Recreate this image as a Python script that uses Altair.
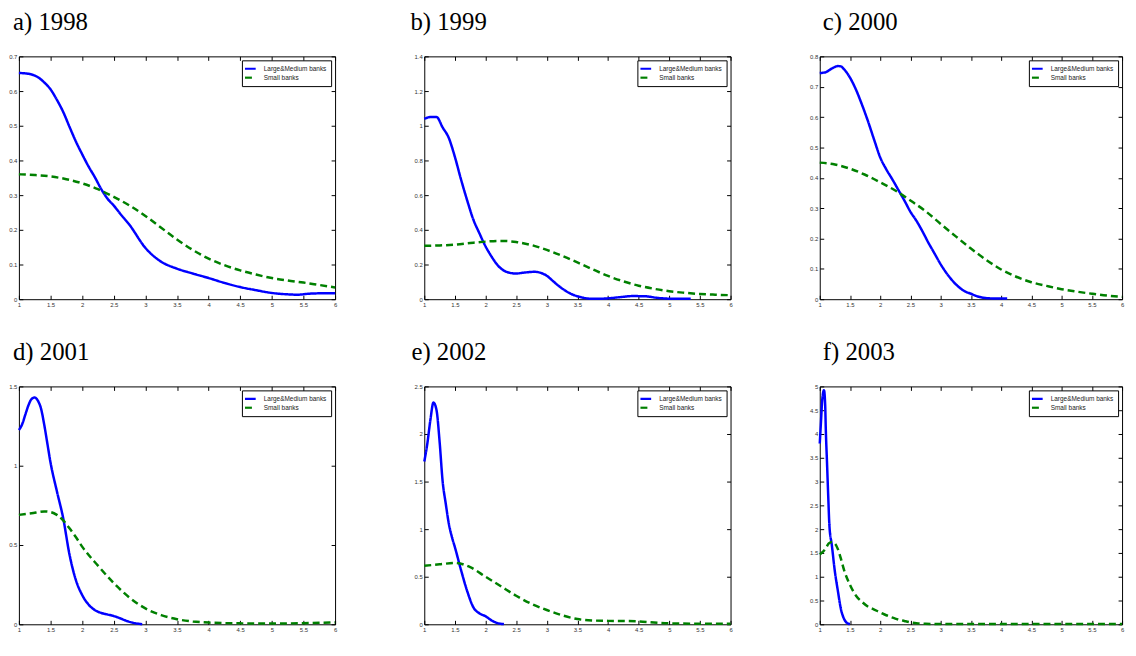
import altair as alt
import pandas as pd

SERIES = ["Large&Medium banks", "Small banks"]
COLORS = ["#0000ff", "#008000"]
X_TICKS = [1, 1.5, 2, 2.5, 3, 3.5, 4, 4.5, 5, 5.5, 6]
TITLES = ["a) 1998", "b) 1999", "c) 2000", "d) 2001", "e) 2002", "f) 2003"]

# ---- a) 1998
a_blue_x = [1.0, 1.1, 1.2, 1.3, 1.4, 1.5, 1.6, 1.7, 1.8, 1.9, 2.0, 2.1, 2.2, 2.3, 2.4, 2.5, 2.6, 2.75, 3.0, 3.25, 3.5, 3.75, 4.0, 4.25, 4.5, 4.75, 5.0, 5.25, 5.4, 5.6, 5.8, 6.0]
a_blue_y = [0.652, 0.651, 0.648, 0.64, 0.625, 0.605, 0.575, 0.54, 0.497, 0.455, 0.418, 0.383, 0.352, 0.318, 0.29, 0.27, 0.247, 0.214, 0.148, 0.108, 0.088, 0.074, 0.061, 0.047, 0.035, 0.026, 0.018, 0.014, 0.013, 0.016, 0.017, 0.017]
a_green_x = [1.0, 1.25, 1.5, 1.75, 2.0, 2.25, 2.5, 2.75, 3.0, 3.25, 3.5, 3.75, 4.0, 4.25, 4.5, 4.75, 5.0, 5.25, 5.5, 5.75, 6.0]
a_green_y = [0.36, 0.358, 0.354, 0.346, 0.334, 0.317, 0.295, 0.27, 0.24, 0.206, 0.172, 0.142, 0.117, 0.098, 0.083, 0.071, 0.061, 0.054, 0.048, 0.041, 0.034]

# ---- b) 1999
b_blue_x = [1.0, 1.1, 1.2, 1.3, 1.4, 1.5, 1.6, 1.7, 1.8, 1.9, 2.0, 2.1, 2.2, 2.3, 2.4, 2.5, 2.6, 2.7, 2.8, 2.9, 3.0, 3.1, 3.2, 3.3, 3.4, 3.5, 3.6, 3.7, 3.8, 3.9, 4.0, 4.2, 4.4, 4.6, 4.8, 5.0, 5.2, 5.35]
b_blue_y = [1.04, 1.05, 1.05, 0.99, 0.93, 0.82, 0.69, 0.57, 0.46, 0.38, 0.305, 0.245, 0.195, 0.165, 0.152, 0.148, 0.152, 0.156, 0.158, 0.152, 0.135, 0.105, 0.075, 0.05, 0.03, 0.017, 0.008, 0.003, 0.002, 0.003, 0.005, 0.012, 0.018, 0.017, 0.008, 0.003, 0.002, 0.002]
b_green_x = [1.0, 1.25, 1.5, 1.75, 2.0, 2.25, 2.5, 2.75, 3.0, 3.25, 3.5, 3.75, 4.0, 4.25, 4.5, 4.75, 5.0, 5.25, 5.5, 5.75, 6.0]
b_green_y = [0.308, 0.31, 0.315, 0.324, 0.332, 0.336, 0.33, 0.312, 0.284, 0.25, 0.212, 0.172, 0.134, 0.103, 0.078, 0.06, 0.046, 0.037, 0.03, 0.026, 0.023]

# ---- c) 2000
c_blue_x = [1.0, 1.1, 1.2, 1.3, 1.35, 1.4, 1.5, 1.6, 1.7, 1.8, 1.9, 2.0, 2.1, 2.2, 2.3, 2.4, 2.5, 2.6, 2.7, 2.8, 2.9, 3.0, 3.1, 3.2, 3.3, 3.4, 3.5, 3.6, 3.7, 3.8, 4.0, 4.1]
c_blue_y = [0.745, 0.748, 0.76, 0.768, 0.767, 0.758, 0.73, 0.69, 0.64, 0.585, 0.525, 0.467, 0.428, 0.395, 0.36, 0.325, 0.288, 0.258, 0.223, 0.185, 0.15, 0.115, 0.085, 0.06, 0.04, 0.026, 0.018, 0.01, 0.005, 0.003, 0.002, 0.002]
c_green_x = [1.0, 1.25, 1.5, 1.75, 2.0, 2.25, 2.5, 2.75, 3.0, 3.25, 3.5, 3.75, 4.0, 4.25, 4.5, 4.75, 5.0, 5.25, 5.5, 5.75, 6.0]
c_green_y = [0.45, 0.444, 0.43, 0.41, 0.385, 0.358, 0.325, 0.29, 0.248, 0.207, 0.167, 0.13, 0.098, 0.074, 0.056, 0.044, 0.033, 0.025, 0.018, 0.012, 0.008]

# ---- d) 2001
d_blue_x = [1.0, 1.05, 1.1, 1.15, 1.2, 1.25, 1.3, 1.35, 1.4, 1.45, 1.5, 1.6, 1.7, 1.8, 1.9, 2.0, 2.1, 2.2, 2.3, 2.4, 2.5, 2.6, 2.7, 2.8, 2.9, 2.95]
d_blue_y = [1.225, 1.26, 1.32, 1.38, 1.42, 1.43, 1.41, 1.36, 1.26, 1.14, 1.02, 0.84, 0.67, 0.44, 0.28, 0.185, 0.125, 0.09, 0.072, 0.062, 0.052, 0.038, 0.022, 0.01, 0.003, 0.001]
d_green_x = [1.0, 1.2, 1.4, 1.5, 1.6, 1.7, 1.8, 1.9, 2.0, 2.25, 2.5, 2.75, 3.0, 3.25, 3.5, 3.75, 4.0, 4.5, 5.0, 5.5, 6.0]
d_green_y = [0.69, 0.70, 0.712, 0.708, 0.69, 0.655, 0.605, 0.55, 0.49, 0.37, 0.26, 0.168, 0.1, 0.058, 0.032, 0.018, 0.011, 0.006, 0.005, 0.007, 0.012]

# ---- e) 2002
e_blue_x = [1.0, 1.05, 1.1, 1.15, 1.2, 1.25, 1.3, 1.35, 1.4, 1.45, 1.5, 1.6, 1.7, 1.8, 1.9, 2.0, 2.1, 2.2, 2.3]
e_blue_y = [1.71, 1.9, 2.15, 2.33, 2.25, 1.92, 1.5, 1.27, 1.06, 0.92, 0.81, 0.57, 0.35, 0.18, 0.115, 0.085, 0.04, 0.012, 0.002]
e_green_x = [1.0, 1.25, 1.5, 1.75, 2.0, 2.25, 2.5, 2.75, 3.0, 3.25, 3.5, 3.75, 4.0, 4.25, 4.5, 4.75, 5.0, 5.5, 6.0]
e_green_y = [0.615, 0.63, 0.645, 0.6, 0.5, 0.4, 0.3, 0.215, 0.15, 0.095, 0.055, 0.04, 0.036, 0.035, 0.03, 0.018, 0.01, 0.006, 0.005]

# ---- f) 2003
f_blue_x = [1.0, 1.02, 1.04, 1.07, 1.09, 1.1, 1.12, 1.14, 1.16, 1.2, 1.25, 1.3, 1.35, 1.4, 1.45, 1.5]
f_blue_y = [3.8, 4.25, 4.7, 4.92, 4.6, 4.1, 3.4, 2.7, 2.07, 1.66, 1.11, 0.7, 0.32, 0.12, 0.03, 0.005]
f_green_x = [1.0, 1.05, 1.1, 1.15, 1.2, 1.25, 1.3, 1.35, 1.4, 1.5, 1.6, 1.7, 1.8, 1.9, 2.0, 2.1, 2.25, 2.4, 2.5, 2.6, 2.75, 3.0, 4.0, 5.0, 6.0]
f_green_y = [1.47, 1.52, 1.6, 1.7, 1.73, 1.7, 1.58, 1.38, 1.15, 0.83, 0.6, 0.47, 0.37, 0.31, 0.25, 0.19, 0.12, 0.07, 0.04, 0.02, 0.01, 0.005, 0.005, 0.005, 0.005]

Y_MAX = [0.7, 1.4, 0.8, 1.5, 2.5, 5.0]
Y_TICKS = [
    [0, 0.1, 0.2, 0.3, 0.4, 0.5, 0.6, 0.7],
    [0, 0.2, 0.4, 0.6, 0.8, 1.0, 1.2, 1.4],
    [0, 0.1, 0.2, 0.3, 0.4, 0.5, 0.6, 0.7, 0.8],
    [0, 0.5, 1.0, 1.5],
    [0, 0.5, 1.0, 1.5, 2.0, 2.5],
    [0, 0.5, 1.0, 1.5, 2.0, 2.5, 3.0, 3.5, 4.0, 4.5, 5.0],
]
WIDTHS = [319, 309, 305, 319, 309, 305]
HEIGHTS = [245, 245, 245, 240, 240, 240]
TITLE_DX = [-6, -14, 3, -6, -13, 3]

PANELS = [
    (a_blue_x, a_blue_y, a_green_x, a_green_y),
    (b_blue_x, b_blue_y, b_green_x, b_green_y),
    (c_blue_x, c_blue_y, c_green_x, c_green_y),
    (d_blue_x, d_blue_y, d_green_x, d_green_y),
    (e_blue_x, e_blue_y, e_green_x, e_green_y),
    (f_blue_x, f_blue_y, f_green_x, f_green_y),
]

AX = dict(
    grid=False, domain=False, tickColor="black", tickSize=4, tickWidth=1,
    offset=-4, labelFont="Liberation Sans", labelFontSize=6, labelColor="#333333",
    labelPadding=2, labelFlush=False, labelOverlap=False, title=None, format="~g",
)


def panel(i):
    bx, by, gx, gy = PANELS[i]
    df = pd.DataFrame({
        "x": bx + gx,
        "y": by + gy,
        "s": [SERIES[0]] * len(bx) + [SERIES[1]] * len(gx),
    })
    xs = alt.Scale(domain=[1, 6], nice=False, zero=False)
    ys = alt.Scale(domain=[0, Y_MAX[i]], nice=False)
    leg = alt.Legend(
        title=None, orient="top-right", offset=4, strokeColor="black", fillColor="white",
        padding=4, rowPadding=0, labelFont="Liberation Sans", labelFontSize=6.5,
        labelColor="#222222", symbolType="M-1.8,0H1.8", symbolSize=36,
        symbolStrokeWidth=2.2, labelOffset=9,
    )
    lines = alt.Chart(df).mark_line(strokeWidth=2.5, interpolate="monotone").encode(
        x=alt.X("x:Q", scale=xs, axis=alt.Axis(values=X_TICKS, orient="bottom", **AX)),
        y=alt.Y("y:Q", scale=ys, axis=alt.Axis(values=Y_TICKS[i], orient="left", **AX)),
        color=alt.Color("s:N", scale=alt.Scale(domain=SERIES, range=COLORS), legend=leg),
        strokeDash=alt.StrokeDash("s:N", scale=alt.Scale(domain=SERIES, range=[[1, 0], [7, 4]]), legend=leg),
    )
    frame = alt.Chart(df).mark_point(opacity=0).encode(
        x=alt.X("x:Q", scale=xs, axis=alt.Axis(values=X_TICKS, orient="top", labels=False, **AX)),
        y=alt.Y("y:Q", scale=ys, axis=alt.Axis(values=Y_TICKS[i], orient="right", labels=False, **AX)),
    )
    return alt.layer(lines, frame).resolve_axis(x="independent", y="independent").properties(
        width=WIDTHS[i], height=HEIGHTS[i],
        title=alt.Title(TITLES[i], anchor="start", frame="group", dx=TITLE_DX[i], offset=19,
                        font="Liberation Serif", fontSize=25, fontWeight="normal", color="black"),
    )


chart = alt.concat(
    *[panel(i) for i in range(6)], columns=3, spacing={"row": 88, "column": 90},
    align="each", bounds="flush",
).resolve_scale(color="independent", strokeDash="independent").properties(
    padding={"top": -2, "bottom": 0, "left": 0, "right": 0}, background="white",
).configure_view(stroke="black", strokeWidth=1)

chart.save("out.html", embed_options={"renderer": "svg", "actions": False})
